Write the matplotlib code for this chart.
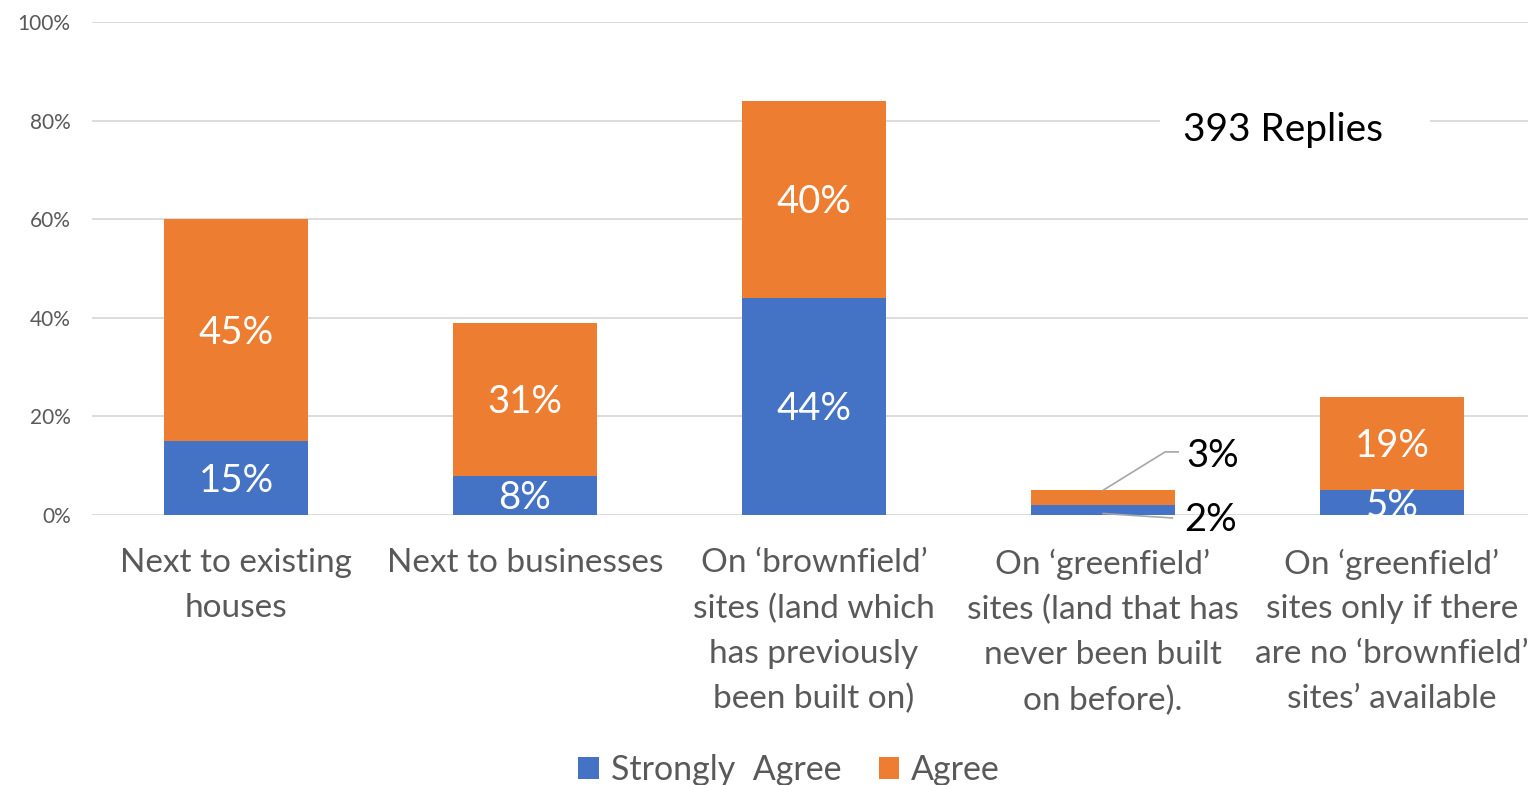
import matplotlib
matplotlib.use("Agg")
import matplotlib.pyplot as plt
from matplotlib.patches import Patch, Rectangle

categories = [
    "Next to existing\nhouses",
    "Next to businesses",
    "On \u2018brownfield\u2019\nsites (land which\nhas previously\nbeen built on)",
    "On \u2018greenfield\u2019\nsites (land that has\nnever been built\non before).",
    "On \u2018greenfield\u2019\nsites only if there\nare no \u2018brownfield\u2019\nsites\u2019 available",
]
strongly_agree = [15, 8, 44, 2, 5]
agree = [45, 31, 40, 3, 19]
series_names = ["Strongly  Agree", "Agree"]
yticks = [0, 20, 40, 60, 80, 100]
note = "393 Replies"

BLUE = "#4472C4"
ORANGE = "#ED7D31"
GRID = "#D9D9D9"
TXT = "#595959"
FONT = ["Lato", "DejaVu Sans"]
plt.rcParams["font.family"] = FONT

W, H = 1528, 785
fig = plt.figure(figsize=(W / 100, H / 100), dpi=100)
ax = fig.add_axes([91.5 / W, 1 - 515 / H, 1445 / W, 493 / H])

x = list(range(len(categories)))
ax.bar(x, strongly_agree, width=0.5, color=BLUE, zorder=3)
ax.bar(x, agree, width=0.5, bottom=strongly_agree, color=ORANGE, zorder=3)

ax.set_xlim(-0.5, len(categories) - 0.5)
ax.set_ylim(0, 100)
ax.set_yticks(yticks)
ax.set_yticklabels([f"{v}%" for v in yticks])
ax.yaxis.grid(True, color=GRID, linewidth=1.3, zorder=0)
ax.set_axisbelow(True)
for s in ax.spines.values():
    s.set_visible(False)
ax.tick_params(axis="y", length=0, pad=15, labelsize=15, labelcolor=TXT)
ax.set_xticks(x)
ax.set_xticklabels(categories, fontsize=24, color=TXT, linespacing=1.62)
ax.tick_params(axis="x", length=0, pad=24)

LBL = 27.5
for i in range(len(categories)):
    if i == 3:
        continue
    ax.text(i, strongly_agree[i] / 2 - 0.6, f"{strongly_agree[i]}%", ha="center", va="center",
            color="white", fontsize=LBL, zorder=4, clip_on=True)
    ax.text(i, strongly_agree[i] + agree[i] / 2 - 0.6, f"{agree[i]}%", ha="center", va="center",
            color="white", fontsize=LBL, zorder=4, clip_on=True)

# callouts for the small bar
i = 3
ax.plot([i, i + 0.215, i + 0.26], [strongly_agree[i] + agree[i], 12.8, 12.8],
        color="#A6A6A6", lw=1.2, zorder=4, clip_on=False)
ax.text(i + 0.29, 12.0, f"{agree[i]}%", ha="left", va="center", color="black", fontsize=LBL)
ax.plot([i, i + 0.24], [0.3, -0.6], color="#A6A6A6", lw=1.2, zorder=4, clip_on=False)
ax.text(i + 0.28, -1.0, f"{strongly_agree[i]}%", ha="left", va="center", color="black", fontsize=LBL)

# note box (white box masking the gridline)
ax.add_patch(Rectangle((3.197, 74), 0.934, 8, facecolor="white", edgecolor="none", zorder=1))
ax.text(3.623, 78.0, note, ha="center", va="center", fontsize=28, color="black", zorder=5)

handles = [Patch(facecolor=BLUE, edgecolor="none"), Patch(facecolor=ORANGE, edgecolor="none")]
leg = fig.legend(handles, series_names, loc="center", bbox_to_anchor=(789 / W, 1 - 770 / H),
                 ncol=2, frameon=False, fontsize=24.5, handlelength=0.6, handleheight=0.6,
                 handletextpad=0.35, columnspacing=1.1, borderpad=0)
for t in leg.get_texts():
    t.set_color(TXT)

fig.savefig("out.png", dpi=100)
